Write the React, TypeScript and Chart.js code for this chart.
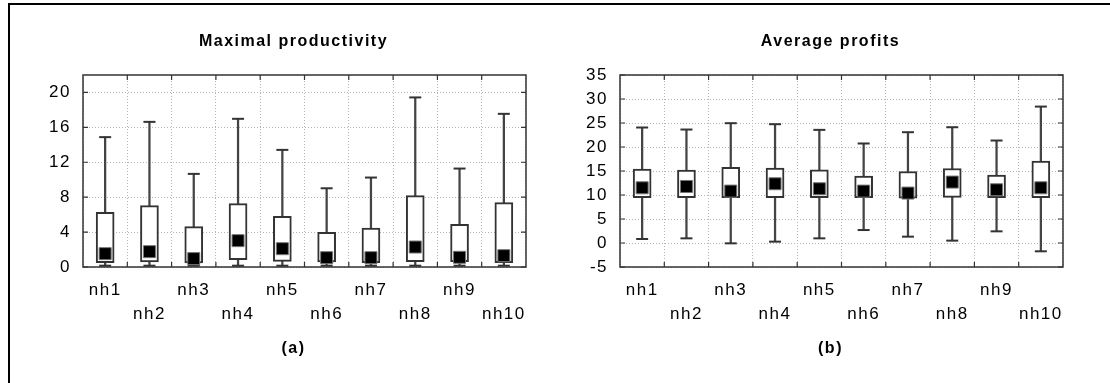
import React, { useEffect, useRef } from 'react';
import { Chart, registerables } from 'chart.js';

Chart.register(...registerables);

const categories = ['nh1', 'nh2', 'nh3', 'nh4', 'nh5', 'nh6', 'nh7', 'nh8', 'nh9', 'nh10'];

// (a) Maximal productivity
const prodLow = [0.15, 0.15, 0.15, 0.15, 0.15, 0.15, 0.15, 0.15, 0.15, 0.15];
const prodQ1 = [0.5, 0.57, 0.46, 0.84, 0.65, 0.57, 0.5, 0.61, 0.61, 0.5];
const prodQ3 = [6.27, 7.04, 4.63, 7.27, 5.81, 3.98, 4.47, 8.18, 4.89, 7.38];
const prodHigh = [14.88, 16.63, 10.67, 16.98, 13.42, 9.02, 10.25, 19.43, 11.28, 17.55];
const prodMedian = [1.53, 1.76, 0.96, 3.02, 2.1, 1.07, 1.07, 2.29, 1.11, 1.3];

// (b) Average profits
const profLow = [0.83, 0.97, -0.07, 0.28, 0.97, 2.7, 1.32, 0.49, 2.43, -1.73];
const profQ1 = [9.43, 9.43, 9.43, 9.43, 9.43, 9.43, 9.36, 9.5, 9.43, 9.43];
const profQ3 = [15.39, 15.18, 15.74, 15.6, 15.25, 13.93, 14.9, 15.53, 14.14, 17.05];
const profHigh = [24.06, 23.64, 24.96, 24.75, 23.57, 20.73, 23.08, 24.12, 21.35, 28.42];
const profMedian = [11.5, 11.78, 10.81, 12.34, 11.3, 10.81, 10.4, 12.69, 11.09, 11.5];

const FONT = "'Liberation Sans', Arial, sans-serif";

const spacingPlugin = {
  id: 'letterSpacing',
  beforeLayout(c: any) {
    c.ctx.letterSpacing = '1.5px';
  },
  beforeDraw(c: any) {
    c.ctx.letterSpacing = '1.5px';
  },
};

const framePlugin = {
  id: 'frame',
  beforeDatasetsDraw(c: any) {
    const { ctx, chartArea } = c;
    const xs = c.scales.x;
    const ys = c.scales.y;
    ctx.save();
    ctx.strokeStyle = '#333';
    ctx.lineWidth = 1.5;
    ctx.strokeRect(chartArea.left, chartArea.top, chartArea.right - chartArea.left, chartArea.bottom - chartArea.top);
    ctx.lineWidth = 1.2;
    ctx.beginPath();
    const n = categories.length;
    for (let i = 1; i < n; i++) {
      const px = (xs.getPixelForValue(i - 1) + xs.getPixelForValue(i)) / 2;
      ctx.moveTo(px, chartArea.top);
      ctx.lineTo(px, chartArea.top + 5);
      ctx.moveTo(px, chartArea.bottom);
      ctx.lineTo(px, chartArea.bottom - 5);
    }
    ys.ticks.forEach((t: any) => {
      const py = ys.getPixelForValue(t.value);
      ctx.moveTo(chartArea.left, py);
      ctx.lineTo(chartArea.left + 5, py);
      ctx.moveTo(chartArea.right, py);
      ctx.lineTo(chartArea.right - 5, py);
    });
    ctx.stroke();
    ctx.restore();
  },
};

type BoxProps = {
  title: string;
  sub: string;
  low: number[];
  q1: number[];
  q3: number[];
  high: number[];
  median: number[];
  yMin: number;
  yMax: number;
  step: number;
  left: number;
};

function BoxChart(p: BoxProps) {
  const ref = useRef<HTMLCanvasElement>(null);
  useEffect(() => {
    if (!ref.current) return;
    const chart = new Chart(ref.current, {
      type: 'bar',
      data: {
        labels: categories,
        datasets: [
          {
            type: 'line',
            data: p.median,
            showLine: false,
            pointStyle: 'rect',
            pointRadius: 8.5,
            pointBackgroundColor: '#000',
            pointBorderColor: '#777',
            pointBorderWidth: 1,
            order: 1,
          } as any,
          {
            type: 'line',
            data: p.high,
            showLine: false,
            pointStyle: 'line',
            pointRadius: 6,
            pointBorderColor: '#333',
            pointBorderWidth: 2,
            order: 2,
          } as any,
          {
            type: 'line',
            data: p.low,
            showLine: false,
            pointStyle: 'line',
            pointRadius: 6,
            pointBorderColor: '#333',
            pointBorderWidth: 2,
            order: 2,
          } as any,
          {
            type: 'bar',
            data: p.q1.map((v, i) => [v, p.q3[i]]),
            backgroundColor: '#fff',
            borderColor: '#333',
            borderWidth: 2,
            borderSkipped: false,
            barThickness: 18,
            grouped: false,
            order: 3,
          } as any,
          {
            type: 'bar',
            data: p.low.map((v, i) => [v, p.high[i]]),
            backgroundColor: '#444',
            borderWidth: 0,
            barThickness: 1.6,
            grouped: false,
            order: 4,
          } as any,
        ],
      },
      options: {
        responsive: false,
        animation: false,
        events: [],
        layout: { padding: 0 },
        scales: {
          x: {
            offset: true,
            grid: { color: '#b5b5b5', lineWidth: 1, drawTicks: false, offset: true },
            border: { display: false, dash: [1, 2] },
            ticks: {
              autoSkip: false,
              maxRotation: 0,
              padding: 11,
              color: '#000',
              font: { family: FONT, size: 17, lineHeight: 24 / 17 },
              callback: (_v: any, i: number) => (i % 2 === 0 ? [categories[i], ''] : ['', categories[i]]),
            },
          },
          y: {
            min: p.yMin,
            max: p.yMax,
            grid: { color: '#b5b5b5', lineWidth: 1, drawTicks: false },
            border: { display: false, dash: [1, 2] },
            ticks: {
              stepSize: p.step,
              includeBounds: false,
              padding: 12,
              color: '#000',
              font: { family: FONT, size: 17 },
            },
            afterFit: (a: any) => {
              a.width = 63;
            },
          },
          yPad: {
            position: 'right',
            display: true,
            grid: { display: false },
            border: { display: false },
            ticks: { display: false },
            afterFit: (a: any) => {
              a.width = 41;
            },
          },
        },
        plugins: {
          legend: { display: false },
          tooltip: { enabled: false },
          title: {
            display: true,
            text: p.title,
            color: '#000',
            font: { family: FONT, size: 16, weight: 'bold' },
            padding: { top: 22.2, bottom: 23.6 },
          },
          subtitle: {
            display: true,
            text: p.sub,
            position: 'bottom',
            color: '#000',
            font: { family: FONT, size: 16, weight: 'bold' },
            padding: { top: 1.8, bottom: 10 },
          },
        },
      } as any,
      plugins: [spacingPlugin, framePlugin],
    });
    return () => chart.destroy();
  }, []);
  return (
    <canvas
      ref={ref}
      width={547}
      height={358}
      style={{ position: 'absolute', left: p.left, top: 10, width: 547, height: 358 }}
    />
  );
}

export default function App() {
  return (
    <div style={{ position: 'absolute', left: 0, top: 0, width: 1110, height: 383, background: '#fff', overflow: 'hidden' }}>
      <div
        style={{
          position: 'absolute',
          left: 8,
          top: 3,
          width: 1110,
          height: 390,
          borderTop: '2px solid #000',
          borderLeft: '2px solid #000',
        }}
      />
      <BoxChart
        title="Maximal productivity"
        sub="(a)"
        low={prodLow}
        q1={prodQ1}
        q3={prodQ3}
        high={prodHigh}
        median={prodMedian}
        yMin={0}
        yMax={22}
        step={4}
        left={20}
      />
      <BoxChart
        title="Average profits"
        sub="(b)"
        low={profLow}
        q1={profQ1}
        q3={profQ3}
        high={profHigh}
        median={profMedian}
        yMin={-5}
        yMax={35}
        step={5}
        left={557}
      />
    </div>
  );
}
